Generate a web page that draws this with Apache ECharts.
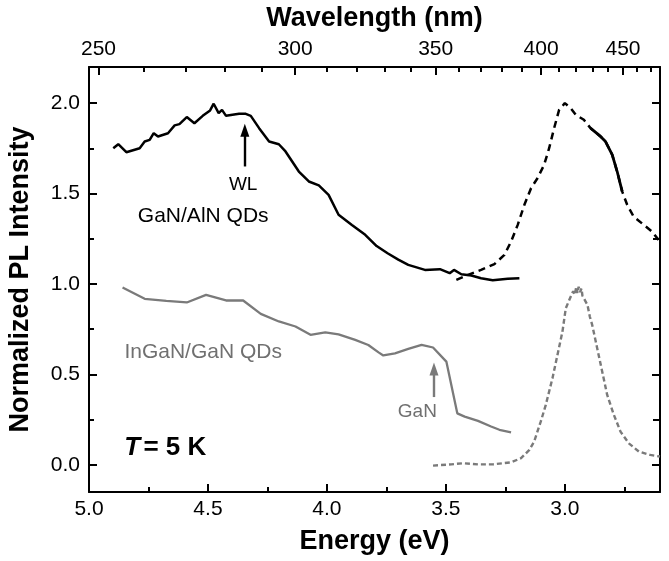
<!DOCTYPE html>
<html><head><meta charset="utf-8">
<script src="https://cdn.jsdelivr.net/npm/echarts@6/dist/echarts.min.js"></script>
<style>html,body{margin:0;padding:0;background:#fff}#c{width:669px;height:561px}</style>
</head><body><div id="c"></div>
<script>
// ---- axis ticks ----
const energyTicks = [5.0, 4.5, 4.0, 3.5, 3.0];
const energyMinorTicks = [4.75, 4.25, 3.75, 3.25, 2.75];
const intensityTicks = [0.0, 0.5, 1.0, 1.5, 2.0];
const intensityMinorTicks = [0.25, 0.75, 1.25, 1.75];
const wavelengthTicks = [250, 300, 350, 400, 450];
const wavelengthMinorTicks = [260, 270, 280, 290, 310, 320, 330, 340, 360, 370, 380, 390, 410, 420, 430, 440, 460, 470];

// ---- data: [energy (eV), normalized intensity] ----
const ganAlnSolid = [[4.898,1.751],[4.877,1.773],[4.843,1.729],[4.787,1.751],[4.766,1.788],[4.745,1.797],[4.728,1.834],[4.710,1.816],[4.668,1.834],[4.640,1.877],[4.620,1.884],[4.589,1.923],[4.557,1.889],[4.522,1.930],[4.491,1.960],[4.476,1.997],[4.455,1.945],[4.441,1.963],[4.424,1.930],[4.397,1.936],[4.369,1.941],[4.341,1.941],[4.320,1.930],[4.285,1.862],[4.243,1.788],[4.202,1.773],[4.174,1.733],[4.118,1.622],[4.076,1.567],[4.034,1.545],[3.993,1.493],[3.951,1.383],[3.895,1.327],[3.839,1.272],[3.791,1.210],[3.745,1.170],[3.700,1.135],[3.658,1.106],[3.588,1.078],[3.525,1.082],[3.484,1.060],[3.466,1.078],[3.435,1.054],[3.393,1.047],[3.352,1.032],[3.303,1.021],[3.240,1.029],[3.191,1.032]];
const ganAlnDashed = [[3.456,1.023],[3.407,1.051],[3.352,1.078],[3.296,1.110],[3.254,1.161],[3.226,1.235],[3.198,1.327],[3.170,1.438],[3.142,1.530],[3.115,1.585],[3.087,1.659],[3.066,1.751],[3.045,1.862],[3.024,1.963],[3.000,2.000],[2.975,1.972],[2.954,1.936],[2.920,1.908],[2.892,1.862],[2.850,1.816],[2.829,1.788],[2.801,1.715],[2.780,1.622],[2.759,1.512],[2.738,1.438],[2.711,1.373],[2.668,1.327],[2.634,1.290],[2.606,1.244]];
const inganSolid = [[4.859,0.981],[4.766,0.918],[4.675,0.907],[4.589,0.898],[4.508,0.940],[4.424,0.909],[4.352,0.909],[4.278,0.835],[4.202,0.793],[4.132,0.765],[4.069,0.719],[4.007,0.733],[3.951,0.722],[3.881,0.691],[3.826,0.663],[3.783,0.622],[3.763,0.605],[3.714,0.617],[3.658,0.641],[3.602,0.664],[3.554,0.649],[3.498,0.571],[3.452,0.285],[3.421,0.267],[3.365,0.243],[3.310,0.212],[3.275,0.194],[3.226,0.180]];
const inganDashed = [[3.554,-0.004],[3.477,0.003],[3.428,0.009],[3.365,0.003],[3.303,0.003],[3.226,0.014],[3.184,0.037],[3.149,0.083],[3.129,0.129],[3.101,0.240],[3.080,0.332],[3.052,0.479],[3.031,0.608],[3.010,0.737],[2.996,0.866],[2.985,0.900],[2.975,0.931],[2.965,0.960],[2.958,0.940],[2.952,0.985],[2.947,0.950],[2.942,0.985],[2.936,0.955],[2.930,0.975],[2.926,0.935],[2.918,0.930],[2.905,0.885],[2.895,0.820],[2.885,0.774],[2.864,0.645],[2.843,0.516],[2.822,0.387],[2.794,0.277],[2.766,0.184],[2.731,0.119],[2.689,0.074],[2.641,0.055],[2.600,0.046]];

const HC = 1240; // eV*nm
const FONT = '"Liberation Sans", Arial, Helvetica, sans-serif';
const GRAY = '#7a7a7a';
const E_MIN = 2.6, E_MAX = 5.0, I_MIN = -0.15, I_MAX = 2.2;

const chart = echarts.init(document.getElementById('c'), null, {renderer: 'canvas'});

function xAx(opts) {
  return Object.assign({
    type: 'value', min: E_MIN, max: E_MAX, inverse: true,
    splitLine: {show: false},
    axisLine: {show: false, onZero: false, lineStyle: {color: '#000', width: 2}},
    axisLabel: {show: false},
    axisPointer: {show: false}
  }, opts);
}
function yAx(opts) {
  return Object.assign({
    type: 'value', min: I_MIN, max: I_MAX,
    splitLine: {show: false},
    axisLine: {show: false, onZero: false, lineStyle: {color: '#000', width: 2}},
    axisLabel: {show: false}
  }, opts);
}
const tick = (vals, len) => ({show: true, inside: true, length: len, customValues: vals, lineStyle: {color: '#000', width: 2}});

const option = {
  animation: false,
  backgroundColor: '#fff',
  grid: {left: 89, right: 9, top: 67, bottom: 69, containLabel: false, outerBoundsMode: 'none'},
  xAxis: [
    xAx({position: 'bottom',
      axisLine: {show: true, onZero: false, lineStyle: {color: '#000', width: 2}},
      axisTick: tick(energyTicks, 8),
      axisLabel: {show: true, customValues: energyTicks, formatter: v => v.toFixed(1), fontSize: 21, color: '#000', fontFamily: FONT, margin: 7},
      name: 'Energy (eV)', nameLocation: 'middle', nameGap: 36,
      nameTextStyle: {fontSize: 27, fontWeight: 'bold', color: '#000', fontFamily: FONT}
    }),
    xAx({position: 'bottom', axisTick: tick(energyMinorTicks, 5)}),
    xAx({position: 'top',
      axisLine: {show: true, onZero: false, lineStyle: {color: '#000', width: 2}},
      axisTick: tick(wavelengthTicks.map(w => HC / w), 8),
      axisLabel: {show: true, customValues: wavelengthTicks.map(w => HC / w), formatter: v => String(Math.round(HC / v)), fontSize: 21, color: '#000', fontFamily: FONT, margin: 7},
      name: 'Wavelength (nm)', nameLocation: 'middle', nameGap: 35,
      nameTextStyle: {fontSize: 27, fontWeight: 'bold', color: '#000', fontFamily: FONT}
    }),
    xAx({position: 'top', axisTick: tick(wavelengthMinorTicks.map(w => HC / w), 5)})
  ],
  yAxis: [
    yAx({position: 'left',
      axisLine: {show: true, onZero: false, lineStyle: {color: '#000', width: 2}},
      axisTick: tick(intensityTicks, 8),
      axisLabel: {show: true, customValues: intensityTicks, formatter: v => v.toFixed(1), fontSize: 21, color: '#000', fontFamily: FONT, margin: 9},
      name: 'Normalized PL Intensity', nameLocation: 'middle', nameGap: 55,
      nameTextStyle: {fontSize: 27, fontWeight: 'bold', color: '#000', fontFamily: FONT}
    }),
    yAx({position: 'left', axisTick: tick(intensityMinorTicks, 5)}),
    yAx({position: 'right',
      axisLine: {show: true, onZero: false, lineStyle: {color: '#000', width: 2}},
      axisTick: tick(intensityTicks, 8)}),
    yAx({position: 'right', axisTick: tick(intensityMinorTicks, 7)})
  ],
  series: [
    {name: 'GaN/AlN solid', type: 'line', data: ganAlnSolid, symbol: 'none', xAxisIndex: 0, yAxisIndex: 0,
      lineStyle: {color: '#000', width: 2.5}, z: 5,
      markLine: {silent: true, symbol: ['none', 'triangle'], symbolSize: [9, 13], label: {show: false},
        lineStyle: {color: '#000', width: 2.4, type: 'solid'},
        data: [[{coord: [4.345, 1.65]}, {coord: [4.345, 1.85]}]]}},
    {name: 'GaN/AlN dashed', type: 'line', data: ganAlnDashed, symbol: 'none', xAxisIndex: 0, yAxisIndex: 0,
      lineStyle: {color: '#000', width: 2.5, type: [7, 5]}, z: 4},
    {name: 'GaN/AlN dashed dense', type: 'line', data: ganAlnDashed.filter(p => p[0] <= 2.893 && p[0] >= 2.758), symbol: 'none', xAxisIndex: 0, yAxisIndex: 0,
      lineStyle: {color: '#000', width: 2.8}, z: 4},
    {name: 'InGaN/GaN solid', type: 'line', data: inganSolid, symbol: 'none', xAxisIndex: 0, yAxisIndex: 0,
      lineStyle: {color: GRAY, width: 2.3}, z: 3,
      markLine: {silent: true, symbol: ['none', 'triangle'], symbolSize: [9, 13], label: {show: false},
        lineStyle: {color: GRAY, width: 2.4, type: 'solid'},
        data: [[{coord: [3.55, 0.375]}, {coord: [3.55, 0.53]}]]}},
    {name: 'InGaN/GaN dashed', type: 'line', data: inganDashed, symbol: 'none', xAxisIndex: 0, yAxisIndex: 0,
      lineStyle: {color: GRAY, width: 2.4, type: [5, 3]}, z: 3}
  ]
};
chart.setOption(option);

// annotation texts placed in data coordinates
function px(e, i) { return chart.convertToPixel({xAxisIndex: 0, yAxisIndex: 0}, [e, i]); }
const notes = [
  {at: [4.352, 1.549], text: 'WL', size: 19, color: '#000'},
  {at: [4.52, 1.374], text: 'GaN/AlN QDs', size: 21, color: '#000'},
  {at: [4.52, 0.625], text: 'InGaN/GaN QDs', size: 21, color: '#707070'},
  {at: [3.62, 0.296], text: 'GaN', size: 19, color: '#707070'}
];
const graphics = notes.map(n => {
  const p = px(n.at[0], n.at[1]);
  return {type: 'text', x: p[0], y: p[1], z: 10,
    style: {text: n.text, fill: n.color, font: n.size + 'px ' + FONT, align: 'center', verticalAlign: 'middle'}};
});
const tp = px(4.852, 0.097);
graphics.push({type: 'text', x: tp[0], y: tp[1], z: 10,
  style: {text: '{i|T} {n|= 5 K}', align: 'left', verticalAlign: 'middle',
    rich: {i: {font: 'italic bold 26px ' + FONT, fill: '#000'}, n: {font: 'bold 26px ' + FONT, fill: '#000'}}}});
chart.setOption({graphic: graphics});
</script></body></html>
